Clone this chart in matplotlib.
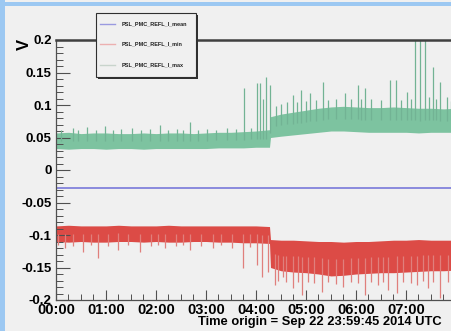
import matplotlib
matplotlib.use("Agg")
import matplotlib.pyplot as plt
import numpy as np
from matplotlib.patches import Rectangle
from matplotlib.lines import Line2D
from matplotlib.ticker import FixedLocator, MultipleLocator

# ---------------- data (hours since time origin, volts) ----------------
env_t = [0.0, 0.25, 0.5, 0.75, 1.0, 1.25, 1.5, 1.75, 2.0, 2.25, 2.5, 2.75, 3.0, 3.25, 3.5, 3.75, 4.0, 4.27,
         4.29, 4.5, 4.75, 5.0, 5.25, 5.5, 5.75, 6.0, 6.25, 6.5, 6.75, 7.0, 7.25, 7.5, 7.75, 8.0]
max_top = [0.057, 0.058, 0.056, 0.057, 0.057, 0.056, 0.056, 0.057, 0.056, 0.057, 0.057, 0.056, 0.057, 0.058, 0.058, 0.059, 0.060, 0.062,
           0.082, 0.086, 0.089, 0.092, 0.095, 0.097, 0.098, 0.097, 0.096, 0.096, 0.097, 0.096, 0.095, 0.095, 0.094, 0.095]
max_bot = [0.033, 0.032, 0.033, 0.033, 0.032, 0.033, 0.033, 0.032, 0.033, 0.033, 0.033, 0.033, 0.033, 0.034, 0.034, 0.034, 0.035, 0.035,
           0.050, 0.052, 0.054, 0.056, 0.058, 0.060, 0.060, 0.059, 0.058, 0.058, 0.058, 0.058, 0.057, 0.058, 0.058, 0.058]
min_top = [-0.086, -0.085, -0.086, -0.086, -0.086, -0.085, -0.086, -0.086, -0.086, -0.085, -0.086, -0.086, -0.086, -0.086, -0.086, -0.086, -0.086, -0.087,
           -0.107, -0.108, -0.108, -0.109, -0.110, -0.110, -0.111, -0.110, -0.110, -0.109, -0.108, -0.108, -0.107, -0.108, -0.108, -0.108]
min_bot = [-0.110, -0.111, -0.110, -0.111, -0.111, -0.110, -0.110, -0.111, -0.110, -0.111, -0.111, -0.110, -0.110, -0.111, -0.111, -0.112, -0.112, -0.113,
           -0.150, -0.155, -0.157, -0.158, -0.160, -0.163, -0.162, -0.160, -0.159, -0.158, -0.158, -0.157, -0.156, -0.155, -0.155, -0.154]
mean_t = [0.0, 8.0]
mean_v = [-0.028, -0.028]

max_spike_t = [0.1, 0.34, 0.45, 0.62, 0.8, 0.98, 1.15, 1.3, 1.52, 1.7, 1.88, 2.08, 2.25, 2.42, 2.55, 2.68, 2.85, 3.02,
               3.2, 3.42, 3.6, 3.76, 3.9, 4.02, 4.08, 4.14, 4.2, 4.28,
               4.4, 4.5, 4.62, 4.74, 4.82, 4.9, 5.0, 5.08, 5.2, 5.34, 5.45, 5.6, 5.78, 5.9, 6.04, 6.1, 6.18, 6.3,
               6.5, 6.68, 6.8, 6.9, 7.02, 7.1, 7.18, 7.28, 7.38, 7.46, 7.54, 7.6, 7.68, 7.82, 7.9]
max_spike_v = [0.062, 0.065, 0.061, 0.066, 0.062, 0.068, 0.062, 0.063, 0.064, 0.062, 0.063, 0.069, 0.062, 0.063, 0.062, 0.074, 0.062, 0.063,
               0.062, 0.064, 0.063, 0.126, 0.065, 0.134, 0.134, 0.110, 0.143, 0.131,
               0.098, 0.102, 0.104, 0.115, 0.104, 0.123, 0.106, 0.118, 0.108, 0.135, 0.108, 0.110, 0.118, 0.109, 0.131, 0.110, 0.126, 0.109,
               0.108, 0.138, 0.138, 0.108, 0.120, 0.110, 0.2, 0.2, 0.2, 0.112, 0.158, 0.110, 0.135, 0.112, 0.106]
min_spike_t = [0.05, 0.18, 0.35, 0.54, 0.7, 0.84, 1.05, 1.24, 1.45, 1.68, 1.9, 2.05, 2.18, 2.4, 2.55, 2.68, 2.9, 3.14,
               3.3, 3.52, 3.74, 3.88, 4.02, 4.12, 4.24, 4.38,
               4.45, 4.54, 4.6, 4.74, 4.85, 4.92, 5.04, 5.15, 5.32, 5.45, 5.6, 5.74, 5.9, 6.05, 6.18, 6.3, 6.44, 6.55,
               6.64, 6.82, 6.95, 7.1, 7.22, 7.35, 7.44, 7.55, 7.68, 7.84, 7.95]
min_spike_v = [-0.116, -0.120, -0.117, -0.126, -0.116, -0.136, -0.117, -0.123, -0.116, -0.126, -0.117, -0.116, -0.120, -0.117, -0.116, -0.123, -0.117, -0.120,
               -0.116, -0.120, -0.151, -0.118, -0.146, -0.165, -0.157, -0.177,
               -0.170, -0.165, -0.172, -0.182, -0.172, -0.192, -0.172, -0.174, -0.188, -0.172, -0.175, -0.180, -0.173, -0.174, -0.192, -0.172, -0.177, -0.173,
               -0.185, -0.189, -0.172, -0.174, -0.177, -0.171, -0.182, -0.172, -0.197, -0.172, -0.170]

y_ticks = [-0.2, -0.15, -0.1, -0.05, 0.0, 0.05, 0.1, 0.15, 0.2]
y_labels = ["-0.2", "-0.15", "-0.1", "-0.05", "0", "0.05", "0.1", "0.15", "0.2"]
x_ticks = [0, 1, 2, 3, 4, 5, 6, 7]
x_labels = ["00:00", "01:00", "02:00", "03:00", "04:00", "05:00", "06:00", "07:00"]
legend_names = ["PSL_PMC_REFL_I_mean", "PSL_PMC_REFL_I_min", "PSL_PMC_REFL_I_max"]

# ---------------- styling ----------------
BG = "#f0f0f0"
GREEN = "#7dc3a0"
GREEN_SPK = "#72b394"
RED = "#dc4b46"
RED_SPK = "#e07f7c"
MEAN = "#8282dc"
W, H = 452, 331

plt.rcParams["font.family"] = ["Liberation Sans", "DejaVu Sans"]
fig = plt.figure(figsize=(W / 100, H / 100), dpi=100, facecolor=BG)

# border strips
fig.add_artist(Rectangle((0, 0), 5 / W, 1, transform=fig.transFigure, color="#9cc8f2", lw=0))
fig.add_artist(Rectangle((0, 1 - 6 / H), 1, 4 / H, transform=fig.transFigure, color="#9cc8f2", lw=0))

left, right, top, bottom = 56, 456, 40, 300
ax = fig.add_axes([left / W, (H - bottom) / H, (right - left) / W, (bottom - top) / H])
ax.set_facecolor(BG)
ax.set_xlim(0, 8)
ax.set_ylim(-0.2, 0.2)

# spikes start from the middle of their band
max_base = (np.interp(max_spike_t, env_t, max_top) + np.interp(max_spike_t, env_t, max_bot)) / 2
min_base = (np.interp(min_spike_t, env_t, min_top) + np.interp(min_spike_t, env_t, min_bot)) / 2

ax.fill_between(env_t, max_bot, max_top, color=GREEN, lw=0)
ax.vlines(max_spike_t, max_base, max_spike_v, color=GREEN_SPK, lw=0.9)
ax.fill_between(env_t, min_bot, min_top, color=RED, lw=0)
ax.vlines(min_spike_t, min_base, min_spike_v, color=RED_SPK, lw=0.9)
ax.plot(mean_t, mean_v, color=MEAN, lw=1.3)

ax.spines["right"].set_visible(False)
ax.spines["top"].set_color("#404040")
ax.spines["top"].set_linewidth(1.8)
for s in ["left", "bottom"]:
    ax.spines[s].set_color("#505050")
    ax.spines[s].set_linewidth(0.9)

ax.yaxis.set_major_locator(FixedLocator(y_ticks))
ax.set_yticklabels(y_labels)
ax.yaxis.set_minor_locator(MultipleLocator(0.01))
ax.xaxis.set_major_locator(FixedLocator(x_ticks))
ax.set_xticklabels(x_labels)
ax.xaxis.set_minor_locator(MultipleLocator(0.25))

ax.tick_params(axis="y", which="major", direction="in", length=10, width=0.8, color="#505050",
               labelsize=9.5, pad=3)
ax.tick_params(axis="y", which="minor", direction="in", length=5, width=0.7, color="#505050")
ax.tick_params(axis="x", which="major", direction="in", length=7, width=0.8, color="#505050",
               labelsize=10.5, pad=2)
ax.tick_params(axis="x", which="minor", direction="in", length=4, width=0.7, color="#505050")
for lab in ax.get_yticklabels() + ax.get_xticklabels():
    lab.set_fontweight("bold")

fig.text(24 / W, 1 - 44 / H, "V", rotation=90, ha="center", va="center", fontsize=12, fontweight="bold")
fig.text(442 / W, 1 - 322 / H, "Time origin = Sep 22 23:59:45 2014 UTC", ha="right", va="center",
         fontsize=9.3, fontweight="bold")

# legend box
lx0, ly0, lx1, ly1 = 96, 13, 196, 77
fig.add_artist(Rectangle(((lx0 + 2) / W, 1 - (ly1 + 2) / H), (lx1 - lx0) / W, (ly1 - ly0) / H,
                         transform=fig.transFigure, facecolor="#303030", edgecolor="none"))
fig.add_artist(Rectangle((lx0 / W, 1 - ly1 / H), (lx1 - lx0) / W, (ly1 - ly0) / H,
                         transform=fig.transFigure, facecolor=BG, edgecolor="#303030", lw=0.8))
leg_colors = ["#9a9ae0", "#ecb0b0", "#c8d4cc"]
for i, (name, c) in enumerate(zip(legend_names, leg_colors)):
    yy = 1 - [24, 44, 65][i] / H
    fig.add_artist(Line2D([100 / W, 115 / W], [yy, yy], transform=fig.transFigure, color=c, lw=1))
    fig.text(122 / W, yy, name, fontsize=4, fontweight="bold", va="center", ha="left", color="#202020")

fig.savefig("out.png", dpi=100, facecolor=BG)
